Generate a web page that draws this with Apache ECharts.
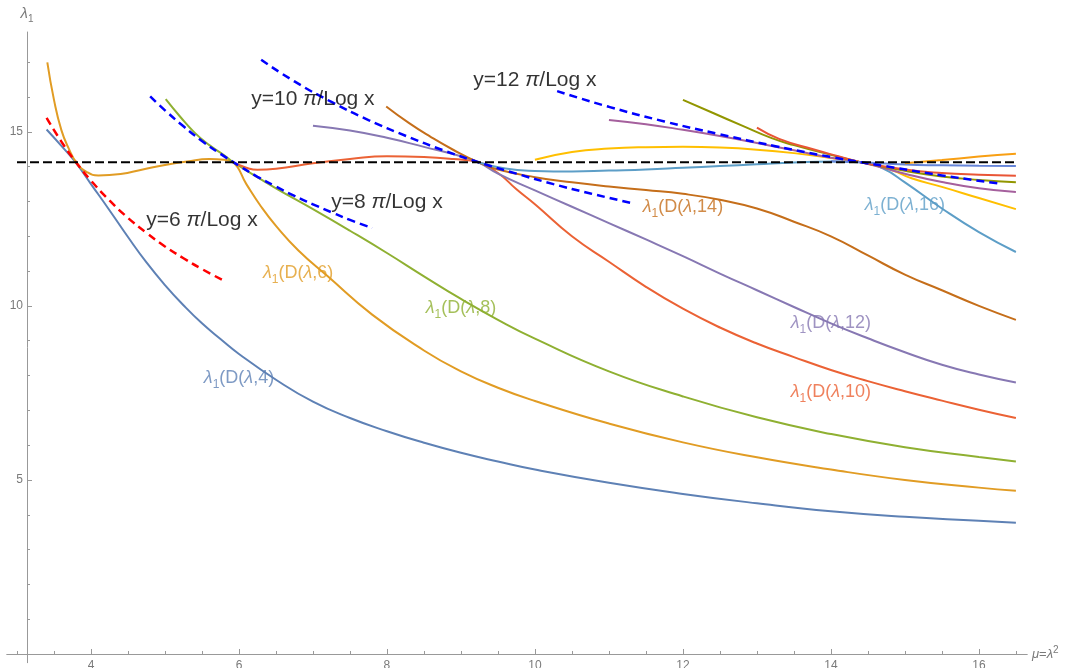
<!DOCTYPE html>
<html>
<head>
<meta charset="utf-8">
<script src="https://cdn.jsdelivr.net/npm/echarts@6/dist/echarts.min.js"></script>
<style>
html,body{margin:0;padding:0;background:#fff;}
#main{width:1074px;height:668px;}
</style>
</head>
<body>
<div id="main"></div>
<script>
// ---- data ----
const d4X = [3.40,3.60,3.79,4.00,4.25,4.50,4.75,5.00,5.25,5.50,5.75,6.00,6.50,7.00,7.50,8.00,8.50,9.00,9.50,10.0,11.0,12.0,13.0,14.0,15.0,16.0,16.5];
const d4Y = [15.07,14.60,14.13,13.50,12.75,11.98,11.25,10.60,10.02,9.50,9.05,8.62,7.88,7.25,6.78,6.40,6.07,5.78,5.53,5.30,4.92,4.60,4.33,4.10,3.94,3.83,3.77];
const d6X = [3.41,3.50,3.60,3.70,3.81,3.95,4.10,4.40,4.70,5.00,5.30,5.60,5.80,5.92,6.10,6.30,6.50,6.80,7.20,7.80,8.50,9.00,9.50,10.0,11.0,12.0,13.0,14.0,15.0,16.0,16.5];
const d6Y = [17.00,15.92,15.05,14.52,14.10,13.84,13.75,13.79,13.92,14.05,14.15,14.22,14.20,14.13,13.50,12.85,12.30,11.60,10.85,9.75,8.72,8.12,7.65,7.27,6.62,6.08,5.65,5.30,5.00,4.78,4.69];
const d8X = [5.01,5.20,5.40,5.60,5.80,5.92,6.00,6.50,7.00,7.50,8.00,8.50,9.00,9.50,10.0,11.0,12.0,13.0,14.0,15.0,16.0,16.5];
const d8Y = [15.94,15.45,14.98,14.62,14.33,14.13,14.02,13.38,12.78,12.16,11.52,10.85,10.20,9.60,9.06,8.12,7.40,6.80,6.32,5.94,5.66,5.53];
const d10X = [5.92,6.10,6.25,6.50,7.00,7.50,8.00,8.50,8.90,9.23,9.50,9.75,10.0,10.5,11.0,11.5,12.0,12.5,13.0,13.5,14.0,14.5,15.0,15.5,16.0,16.5];
const d10Y = [14.13,13.97,13.91,13.94,14.10,14.22,14.30,14.28,14.22,14.13,13.82,13.35,12.92,12.00,11.27,10.55,9.92,9.38,8.92,8.53,8.16,7.84,7.55,7.28,7.02,6.78];
const d12X = [7.00,7.50,8.00,8.50,9.00,9.23,9.50,10.0,10.5,11.0,11.5,12.0,12.5,13.0,13.5,14.0,14.5,15.0,15.5,16.0,16.5];
const d12Y = [15.18,15.04,14.83,14.57,14.30,14.13,13.80,13.32,12.85,12.38,11.91,11.43,10.93,10.45,9.97,9.50,9.07,8.67,8.31,8.03,7.80];
const d14X = [7.99,8.30,8.58,8.90,9.23,9.50,10.0,10.5,11.0,11.5,12.0,12.5,13.0,13.5,14.0,14.5,15.0,15.5,16.0,16.5];
const d14Y = [15.73,15.25,14.87,14.48,14.13,13.92,13.70,13.55,13.43,13.33,13.22,13.05,12.80,12.42,12.00,11.45,10.90,10.45,10.00,9.60];
const d16X = [9.23,9.60,10.0,10.5,11.0,11.5,12.0,12.5,13.0,13.5,14.0,14.4,14.7,15.0,15.5,16.0,16.5];
const d16Y = [14.13,13.95,13.88,13.86,13.89,13.92,13.97,14.02,14.07,14.12,14.15,14.13,13.95,13.55,12.80,12.12,11.55];
const d18X = [10.0,10.5,11.0,11.5,12.0,12.5,13.0,13.5,14.0,14.4,14.8,15.1,15.5,16.0,16.5];
const d18Y = [14.20,14.42,14.52,14.56,14.57,14.55,14.49,14.39,14.25,14.13,13.92,13.66,13.42,13.10,12.78];
const d20X = [11.0,11.5,12.0,12.5,13.0,13.5,14.0,14.4,15.0,15.5,16.0,16.5];
const d20Y = [15.34,15.22,15.06,14.88,14.68,14.47,14.26,14.13,13.80,13.56,13.38,13.27];
const d22X = [12.0,12.4,12.8,13.2,13.5,14.0,14.4,15.0,15.5,16.0,16.5];
const d22Y = [15.92,15.55,15.18,14.82,14.62,14.34,14.13,13.88,13.72,13.62,13.55];
const d24X = [13.0,13.3,13.76,14.1,14.4,15.0,15.5,16.0,16.5];
const d24Y = [15.12,14.80,14.50,14.30,14.13,13.92,13.82,13.77,13.74];
const d26X = [14.0,14.4,15.0,15.5,16.0,16.5];
const d26Y = [14.16,14.13,14.06,14.04,14.03,14.02];
const d28X = [15.0,15.5,16.0,16.5];
const d28Y = [14.10,14.19,14.29,14.37];

// guide curves y = k*pi/Log x
const g6X = [3.40,3.60,3.80,4.00,4.25,4.50,4.75,5.00,5.25,5.50,5.80];
const g6Y = [15.40,14.72,14.12,13.60,13.03,12.53,12.10,11.71,11.37,11.06,10.72];
const g8X = [4.80,5.00,5.25,5.50,5.75,6.00,6.25,6.50,6.75,7.00,7.25,7.50,7.80];
const g8Y = [16.02,15.62,15.16,14.74,14.37,14.03,13.71,13.43,13.16,12.92,12.69,12.47,12.24];
const g10X = [6.30,6.75,7.25,7.75,8.25,8.75,9.25,9.75,10.25,10.75,11.30];
const g10Y = [17.07,16.45,15.86,15.34,14.89,14.48,14.12,13.80,13.50,13.23,12.96];
const g12X = [10.30,11.00,11.75,12.50,13.25,14.00,14.75,15.50,16.30];
const g12Y = [16.17,15.72,15.30,14.93,14.59,14.28,14.01,13.75,13.51];
const hX = [3.0, 16.5];
const hY = [14.13, 14.13];

// tick values
const xMajor = [4,6,8,10,12,14,16];
const xMinor = [3,3.5,4.5,5,5.5,6.5,7,7.5,8.5,9,9.5,10.5,11,11.5,12.5,13,13.5,14.5,15,15.5,16.5];
const yMajor = [5,10,15];
const yMinor = [1,2,3,4,6,7,8,9,11,12,13,14,16,17];

// annotations
const curveLabelK = ['4','6','8','10','12','14','16'];
const curveLabelX = [6.0, 6.8, 9.0, 14.0, 14.0, 12.0, 15.0];
const curveLabelY = [7.93, 10.95, 9.94, 7.53, 9.51, 12.84, 12.90];
const guideLabelK = ['6','8','10','12'];
const guideLabelX = [5.5, 8.0, 7.0, 10.0];
const guideLabelY = [12.47, 12.99, 15.95, 16.49];

// ---- chart ----
const FONT = '"Liberation Sans", Arial, Helvetica, sans-serif';
const AX = '#999999';
const AXT = '#7a7a7a';
const C = ['#5E81B5','#E19C24','#8FB032','#EB6235','#8778B3','#C56E1A','#5D9EC7','#FFBF00','#A5609D','#929600','#E95536','#6685D9','#F89F13'];
function pairs(xs, ys){ return xs.map((x,i)=>[x, ys[i]]); }

const curves = [
  ['λ1(D(λ,4))', d4X, d4Y], ['λ1(D(λ,6))', d6X, d6Y], ['λ1(D(λ,8))', d8X, d8Y],
  ['λ1(D(λ,10))', d10X, d10Y], ['λ1(D(λ,12))', d12X, d12Y], ['λ1(D(λ,14))', d14X, d14Y],
  ['λ1(D(λ,16))', d16X, d16Y], ['λ1(D(λ,18))', d18X, d18Y], ['λ1(D(λ,20))', d20X, d20Y],
  ['λ1(D(λ,22))', d22X, d22Y], ['λ1(D(λ,24))', d24X, d24Y], ['λ1(D(λ,26))', d26X, d26Y],
  ['λ1(D(λ,28))', d28X, d28Y]
];
const series = curves.map((c, i) => ({
  type: 'line', name: c[0], data: pairs(c[1], c[2]),
  showSymbol: false, smooth: 0.5, z: 2,
  lineStyle: { color: C[i], width: 2 }, itemStyle: { color: C[i] }
}));

const guides = [
  ['y=6π/Log x', g6X, g6Y, '#FF0000'], ['y=8π/Log x', g8X, g8Y, '#0000FF'],
  ['y=10π/Log x', g10X, g10Y, '#0000FF'], ['y=12π/Log x', g12X, g12Y, '#0000FF']
];
guides.forEach(g => series.push({
  type: 'line', name: g[0], data: pairs(g[1], g[2]), showSymbol: false, smooth: 0.5, z: 3,
  lineStyle: { color: g[3], width: 2.5, type: [8, 5] }
}));
series.push({
  type: 'line', name: 'zeta', data: pairs(hX, hY), showSymbol: false, z: 3,
  lineStyle: { color: '#000', width: 2, type: [9, 4] }
});

function curveRich(color){
  return {
    l: { fontFamily: FONT, fontSize: 18, fontStyle: 'italic', color, lineHeight: 26, verticalAlign: 'middle' },
    s: { fontFamily: FONT, fontSize: 12, color, lineHeight: 26, verticalAlign: 'bottom' },
    t: { fontFamily: FONT, fontSize: 18, color, lineHeight: 26, verticalAlign: 'middle' }
  };
}
const curveLabelColors = [C[0], C[1], C[2], C[3], C[4], C[5], C[6]];
const labelData = curveLabelK.map((k, i) => ({
  value: [curveLabelX[i], curveLabelY[i]],
  label: { show: true, position: 'inside', formatter: '{l|λ}{s|1}{t|(D(}{l|λ}{t|,' + k + ')}', rich: curveRich(curveLabelColors[i]) }
}));
guideLabelK.forEach((k, i) => labelData.push({
  value: [guideLabelX[i], guideLabelY[i]],
  label: { show: true, position: 'inside', formatter: '{t|y=' + k + ' }{p|π}{t|/Log x}',
    rich: {
      t: { fontFamily: FONT, fontSize: 21, color: '#000' },
      p: { fontFamily: FONT, fontSize: 21, color: '#000', fontStyle: 'italic' }
    } }
}));
series.push({
  type: 'scatter', name: 'labels', data: labelData, symbolSize: 1, z: 5,
  itemStyle: { color: 'rgba(0,0,0,0)' }, silent: true
});

const xCommon = { type: 'value', min: 2.865, max: 16.65, position: 'bottom', splitLine: { show: false } };
const yCommon = { type: 'value', min: -0.25, max: 17.87, position: 'left', offset: -20, splitLine: { show: false } };

const option = {
  animation: false,
  backgroundColor: '#fff',
  grid: { left: 7, right: 47, top: 32, bottom: 5.3, containLabel: false, outerBoundsMode: 'none' },
  xAxis: [
    Object.assign({}, xCommon, {
      axisLine: { show: true, onZero: true, lineStyle: { color: AX, width: 1 } },
      axisTick: { show: true, inside: true, length: 5, customValues: xMajor, lineStyle: { color: AX } },
      axisLabel: { show: true, customValues: xMajor, color: AXT, fontSize: 12, fontFamily: FONT, margin: -3 },
      name: '{i|μ}{t|=}{i|λ}{sup|2}', nameLocation: 'end', nameGap: 5,
      nameTextStyle: { color: AXT, fontFamily: FONT, fontSize: 13,
        rich: {
          i: { fontFamily: FONT, fontSize: 13, fontStyle: 'italic', color: AXT, lineHeight: 18, verticalAlign: 'middle' },
          t: { fontFamily: FONT, fontSize: 13, color: AXT, lineHeight: 18, verticalAlign: 'middle' },
          sup: { fontFamily: FONT, fontSize: 10, color: AXT, lineHeight: 18, verticalAlign: 'top' }
        } }
    }),
    Object.assign({}, xCommon, {
      axisLine: { show: true, onZero: true, lineStyle: { color: AX, width: 1 } },
      axisTick: { show: true, inside: true, length: 3, customValues: xMinor, lineStyle: { color: AX } },
      axisLabel: { show: false }
    })
  ],
  yAxis: [
    Object.assign({}, yCommon, {
      axisLine: { show: true, onZero: false, lineStyle: { color: AX, width: 1 } },
      axisTick: { show: true, inside: true, length: 5, customValues: yMajor, lineStyle: { color: AX } },
      axisLabel: { show: true, customValues: yMajor, color: AXT, fontSize: 12, fontFamily: FONT, margin: 4 },
      name: '{l|λ}{s|1}', nameLocation: 'end', nameGap: 8,
      nameTextStyle: { color: AXT, fontFamily: FONT,
        rich: {
          l: { fontFamily: FONT, fontSize: 15, fontStyle: 'italic', color: AXT, lineHeight: 20, verticalAlign: 'middle' },
          s: { fontFamily: FONT, fontSize: 10, color: AXT, lineHeight: 20, verticalAlign: 'bottom' }
        } }
    }),
    Object.assign({}, yCommon, {
      axisLine: { show: false, onZero: false },
      axisTick: { show: true, inside: true, length: 3, customValues: yMinor, lineStyle: { color: AX } },
      axisLabel: { show: false }
    })
  ],
  series: series
};

const chart = echarts.init(document.getElementById('main'), null, { renderer: 'canvas' });
chart.setOption(option);
</script>
</body>
</html>
